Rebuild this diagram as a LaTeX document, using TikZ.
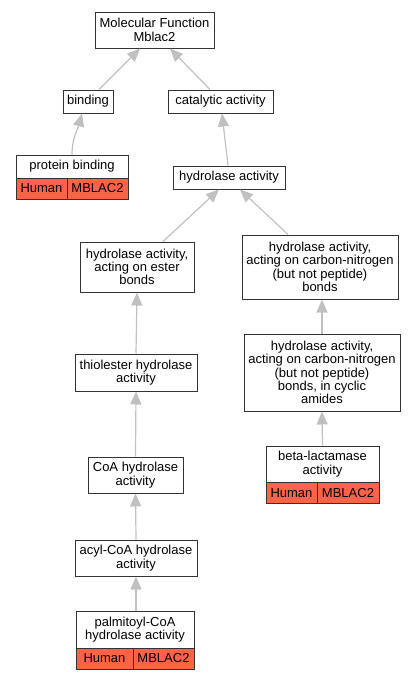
\documentclass[tikz,border=0pt]{standalone}
\usepackage{fontspec}
\setmainfont{Liberation Sans}
\usetikzlibrary{arrows.meta}
\definecolor{genered}{RGB}{255,99,71}
\definecolor{edgegray}{RGB}{192,192,192}
\begin{document}
\begin{tikzpicture}
[x=1pt, y=-1pt,
 term/.style={draw=black!80, line width=1pt, fill=white, align=center, inner sep=0pt,
   font=\fontsize{13}{13.3}\selectfont},
 gene/.style={term, fill=genered, minimum height=21pt},
 isa/.style={draw=edgegray, line width=1.2pt, -{Triangle[length=13pt,width=11pt]}}]
\useasboundingbox (0,0) rectangle (415,680);

\node (MolFunc) at (154.5,30) [term, minimum width=119pt, minimum height=36pt] {Molecular Function\\Mblac2};
\node (Binding) at (88,101.5) [term, minimum width=50pt, minimum height=23pt] {binding};
\node (Catalytic) at (220.5,101.5) [term, minimum width=105pt, minimum height=23pt] {catalytic activity};
\node (ProtBind) at (72,166.5) [term, minimum width=112pt, minimum height=23pt] {protein binding};
\node (ProtBindSp) at (41.5,188.5) [gene, minimum width=51pt] {Human};
\node (ProtBindGn) at (97.5,188.5) [gene, minimum width=61pt] {MBLAC2};
\node (Hydro) at (229,177.5) [term, minimum width=112pt, minimum height=23pt] {hydrolase activity};
\node (Ester) at (137,267) [term, minimum width=114pt, minimum height=50pt] {hydrolase activity,\\acting on ester\\bonds};
\node (CarbNit) at (320,267) [term, minimum width=156pt, minimum height=64pt] {hydrolase activity,\\acting on carbon-nitrogen\\(but not peptide)\\bonds};
\node (Thiol) at (136,372.5) [term, minimum width=122pt, minimum height=37pt] {thiolester hydrolase\\activity};
\node (Cyclic) at (322,372.5) [term, minimum width=156pt, minimum height=77pt] {hydrolase activity,\\acting on carbon-nitrogen\\(but not peptide)\\bonds, in cyclic\\amides};
\node (CoA) at (135.5,475) [term, minimum width=95pt, minimum height=36pt] {CoA hydrolase\\activity};
\node (BetaLac) at (322.5,464) [term, minimum width=113pt, minimum height=36pt] {beta-lactamase\\activity};
\node (BetaLacSp) at (291.5,493) [gene, minimum width=51pt] {Human};
\node (BetaLacGn) at (348,493) [gene, minimum width=62pt] {MBLAC2};
\node (AcylCoA) at (136,558) [term, minimum width=122pt, minimum height=36pt] {acyl-CoA hydrolase\\activity};
\node (Palm) at (135,629.5) [term, minimum width=118pt, minimum height=37pt] {palmitoyl-CoA\\hydrolase activity};
\node (PalmSp) at (104.5,658.5) [gene, minimum width=57pt] {Human};
\node (PalmGn) at (163.5,658.5) [gene, minimum width=61pt] {MBLAC2};

\draw [isa] ([xshift=11pt]Binding.north) -- ([xshift=-14.5pt]MolFunc.south);
\draw [isa] ([xshift=-10.5pt]Catalytic.north) -- ([xshift=15.5pt]MolFunc.south);
\draw [isa] (ProtBind.north) to[out=90,in=-105] ([xshift=-6pt]Binding.south);
\draw [isa] ([xshift=-1pt]Hydro.north) -- ([xshift=1.5pt]Catalytic.south);
\draw [isa] ([xshift=26pt]Ester.north) -- ([xshift=-10pt]Hydro.south);
\draw [isa] ([xshift=-32pt]CarbNit.north) -- ([xshift=11pt]Hydro.south);
\draw [isa] (Thiol.north) -- (Ester.south);
\draw [isa] (Cyclic.north) -- ([xshift=2pt]CarbNit.south);
\draw [isa] (CoA.north) -- (Thiol.south);
\draw [isa] (BetaLac.north) -- (Cyclic.south);
\draw [isa] (AcylCoA.north) -- (CoA.south);
\draw [isa] ([xshift=1pt]Palm.north) -- (AcylCoA.south);
\end{tikzpicture}
\end{document}
